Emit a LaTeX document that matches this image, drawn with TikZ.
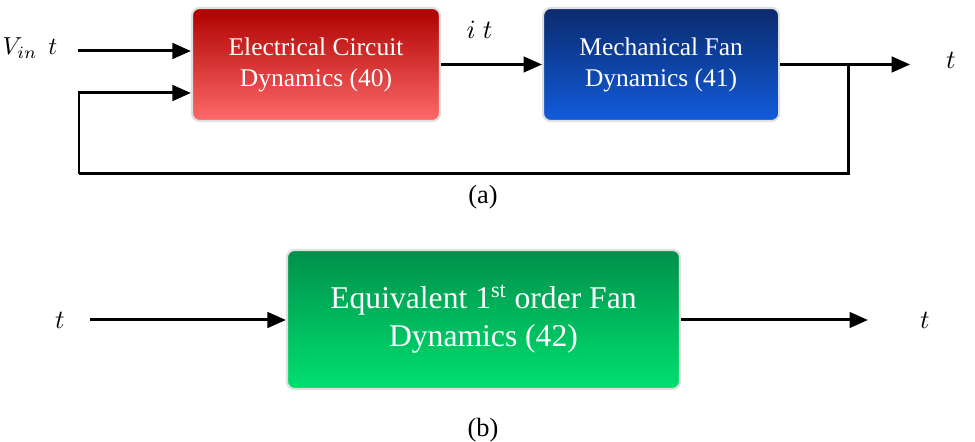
\documentclass[tikz,border=0pt]{standalone}
\usepackage{fontspec}
\setmainfont{Liberation Serif}
\usetikzlibrary{positioning, arrows.meta, calc}
\definecolor{redtop}{HTML}{AE0000}
\definecolor{redmid}{HTML}{F40000}
\definecolor{redbot}{HTML}{FF6A6A}
\definecolor{bluetop}{HTML}{0B2A6C}
\definecolor{bluemid}{HTML}{0D3F9E}
\definecolor{bluebot}{HTML}{115CDC}
\definecolor{greentop}{HTML}{00904A}
\definecolor{greenmid}{HTML}{00B45A}
\definecolor{greenbot}{HTML}{00E070}
\tikzstyle{arrow} = [line width=1.7pt,-{Triangle[length=0.37cm,width=0.31cm]}]
\tikzstyle{line} = [line width=1.7pt]
\tikzstyle{block} = [rectangle, rounded corners=0.15cm, draw=black!12, line width=1.2pt, text=white, align=center, font=\rmfamily\fontsize{14.5}{17.6}\selectfont]
\tikzstyle{sig} = [scale=1.5]

\begin{document}
\begin{tikzpicture}
        \useasboundingbox (0,0) rectangle (19.5,8.84);

        % (a) two blocks with feedback
        \node at (6.32,7.55) [block, minimum width=4.96cm, minimum height=2.26cm, top color=redtop, middle color=redmid, bottom color=redbot](elec) {Electrical Circuit\\Dynamics (40)};
        \node [block, right=2.02cm of elec, minimum width=4.72cm, minimum height=2.26cm, top color=bluetop, middle color=bluemid, bottom color=bluebot](mech) {Mechanical Fan\\Dynamics (41)};

        \coordinate (vin) at (1.56,7.82);
        \coordinate (branch) at ($(mech.east)+(1.36,0)$);
        \coordinate (out) at ($(mech.east)+(2.6,0)$);
        \coordinate (fbl) at (1.58,5.36);

        \node at (0.6,7.88) [scale=1.4](vinlbl) {$V_{in}\;\,t$};
        \node at (19.02,7.64) [sig](outlbl) {$t$};

        \draw[arrow] (vin) -- ([yshift=0.27cm]elec.west);
        \draw[arrow] (elec.east) -- node[sig, above=0.3cm, xshift=-0.16cm]{$i\;t$} (mech.west);
        \draw[arrow] (mech.east) -- (out);
        \draw[line] (branch) |- (fbl);
        \draw[arrow] (fbl) |- ([yshift=-0.57cm]elec.west);

        \node at (9.66,4.9) [font=\rmfamily\fontsize{15}{18}\selectfont](capa) {(a)};

        % (b) equivalent first order block
        \node at (9.67,2.45) [block, minimum width=7.86cm, minimum height=2.78cm, font=\rmfamily\fontsize{18}{21.5}\selectfont, top color=greentop, middle color=greenmid, bottom color=greenbot](equiv) {Equivalent 1\textsuperscript{st} order Fan\\Dynamics (42)};

        \coordinate (bin) at (1.8,2.44);
        \coordinate (bout) at (17.36,2.44);
        \node at (1.2,2.44) [sig](binlbl) {$t$};
        \node at (18.5,2.44) [sig](boutlbl) {$t$};

        \draw[arrow] (bin) -- (equiv.west |- bin);
        \draw[arrow] (equiv.east |- bout) -- (bout);

        \node at (9.66,0.24) [font=\rmfamily\fontsize{15}{18}\selectfont](capb) {(b)};

    \end{tikzpicture}
\end{document}
